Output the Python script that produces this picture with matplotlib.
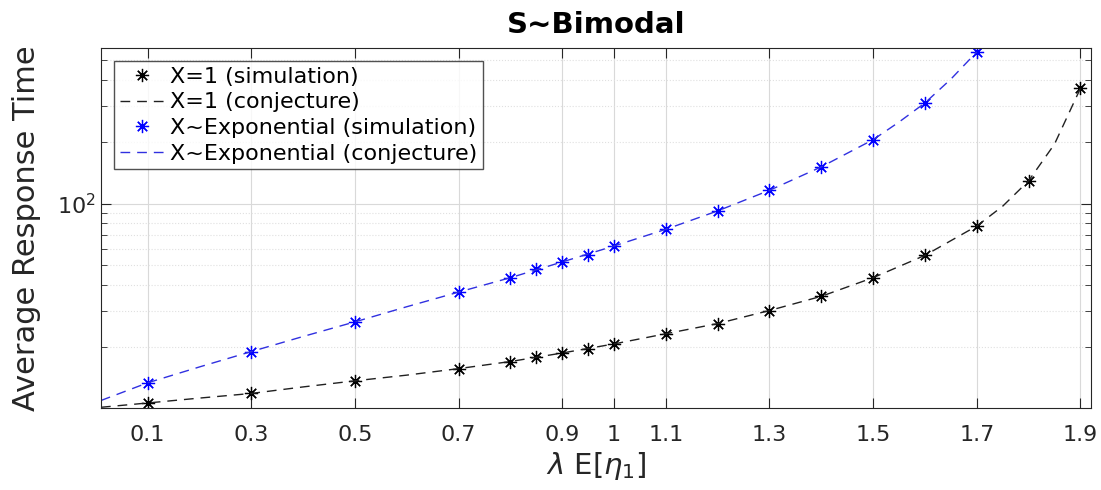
import numpy as np
import matplotlib
matplotlib.use("Agg")
import matplotlib.pyplot as plt
from matplotlib.ticker import LogLocator, NullFormatter, FixedLocator

# simulation points
x_sim = [0.1, 0.3, 0.5, 0.7, 0.8, 0.85, 0.9, 0.95, 1.0, 1.1, 1.2, 1.3, 1.4, 1.5, 1.6, 1.7, 1.8, 1.9]
det_sim = [10.6, 11.8, 13.6, 15.6, 16.9, 17.7, 18.6, 19.5, 20.6, 23.1, 25.9, 30.0, 35.2, 43.4, 55.8, 77.6, 129, 365]

x_sim_exp = [0.1, 0.3, 0.5, 0.7, 0.8, 0.85, 0.9, 0.95, 1.0, 1.1, 1.2, 1.3, 1.4, 1.5, 1.6, 1.7]
exp_sim = [13.3, 18.9, 26.4, 36.9, 43.4, 47.6, 51.8, 56.2, 62.0, 74.8, 92.0, 116, 151, 205, 310, 550]

# conjecture curves
x_conj = [0.01, 0.1, 0.2, 0.3, 0.4, 0.5, 0.6, 0.7, 0.8, 0.9, 1.0, 1.1, 1.2, 1.3, 1.4, 1.5, 1.6, 1.7, 1.75, 1.8, 1.85, 1.9]
det_conj = [10.1, 10.6, 11.2, 11.8, 12.7, 13.6, 14.5, 15.6, 16.9, 18.6, 20.6, 23.1, 25.9, 30.0, 35.2, 43.4, 55.8, 77.6, 97, 129, 195, 365]

x_conj_exp = [0.01, 0.1, 0.2, 0.3, 0.4, 0.5, 0.6, 0.7, 0.8, 0.9, 1.0, 1.1, 1.2, 1.3, 1.4, 1.5, 1.55, 1.6, 1.65, 1.7]
exp_conj = [10.9, 13.3, 15.9, 18.9, 22.4, 26.4, 31.3, 36.9, 43.4, 51.8, 62.0, 74.8, 92.0, 116, 151, 205, 250, 310, 405, 550]

xticks = [0.1, 0.3, 0.5, 0.7, 0.9, 1, 1.1, 1.3, 1.5, 1.7, 1.9]
xticklabels = ["0.1", "0.3", "0.5", "0.7", "0.9", "1", "1.1", "1.3", "1.5", "1.7", "1.9"]

plt.rcParams['font.family'] = ['DejaVu Sans']
star = (8, 2, 0)
dash = (0, (7, 5))

fig = plt.figure(figsize=(11.01, 4.90), dpi=100)
ax = fig.add_axes([0.0917, 0.167, 0.899, 0.735])

ax.plot(x_sim, det_sim, linestyle='none', marker=star, color='black', markersize=9.5,
        markeredgewidth=0.9, label='X=1 (simulation)')
ax.plot(x_conj, det_conj, linestyle=dash, color='#202020', linewidth=1.0,
        label='X=1 (conjecture)')
ax.plot(x_sim_exp, exp_sim, linestyle='none', marker=star, color='blue', markersize=9.5,
        markeredgewidth=0.9, label='X~Exponential (simulation)')
ax.plot(x_conj_exp, exp_conj, linestyle=dash, color='#3030e0', linewidth=1.0,
        label='X~Exponential (conjecture)')

ax.set_yscale('log')
ax.set_xlim(0.01, 1.92)
ax.set_ylim(10, 575)

ax.xaxis.set_major_locator(FixedLocator(xticks))
ax.set_xticklabels(xticklabels)
ax.yaxis.set_major_locator(FixedLocator([100]))
ax.yaxis.set_minor_locator(LogLocator(base=10, subs=np.arange(2, 10)))
ax.yaxis.set_minor_formatter(NullFormatter())
ax.set_yticklabels([r'$10^2$'])

ax.tick_params(axis='both', which='both', direction='in', top=True, right=True,
               labelsize=16, colors='#262626')
ax.tick_params(axis='x', which='major', pad=12)
ax.tick_params(axis='both', which='major', length=7)
ax.tick_params(axis='y', which='minor', length=4)

ax.grid(True, which='major', color='#d9d9d9', linewidth=0.8)
ax.grid(True, which='minor', axis='y', color='#e0e0e0', linestyle=':', linewidth=0.8)
ax.set_axisbelow(True)
for s in ax.spines.values():
    s.set_color('#262626')

ax.set_title('S~Bimodal', fontsize=21, fontweight='bold', pad=11)
ax.set_ylabel('Average Response Time', fontsize=22, color='#262626', labelpad=12)
ax.set_xlabel(r'$\lambda$ E[$\eta_1$]', fontsize=21, color='#262626', labelpad=4)

leg = ax.legend(loc='upper left', fontsize=16, frameon=True, fancybox=False,
                edgecolor='#262626', handlelength=2.0, handletextpad=0.25,
                borderpad=0.25, labelspacing=0.25, borderaxespad=0.6)
leg.get_frame().set_linewidth(1.0)

fig.savefig('out.png', dpi=100)
